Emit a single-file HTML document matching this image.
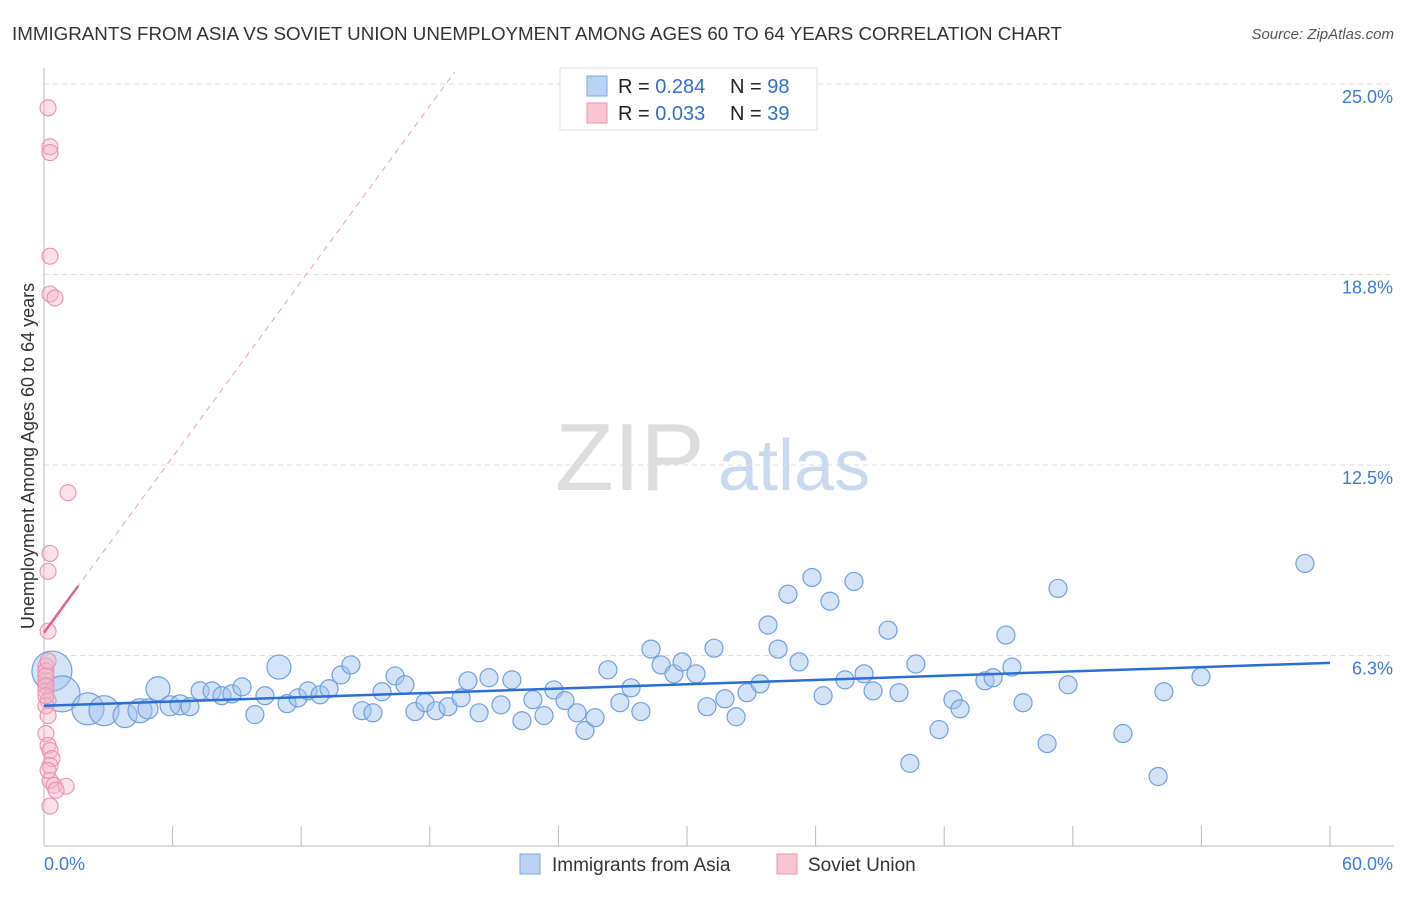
<!DOCTYPE html>
<html><head><meta charset="utf-8"><style>
body{margin:0;background:#fff;font-family:"Liberation Sans",sans-serif}
svg text{font-family:"Liberation Sans",sans-serif}
</style></head><body>
<svg id="c" width="1406" height="892">
<text x="12" y="40" font-size="18" fill="#333" textLength="1050" lengthAdjust="spacingAndGlyphs">IMMIGRANTS FROM ASIA VS SOVIET UNION UNEMPLOYMENT AMONG AGES 60 TO 64 YEARS CORRELATION CHART</text>
<text x="1394" y="39" font-size="15" fill="#555" font-style="italic" text-anchor="end">Source: ZipAtlas.com</text>
<text transform="translate(34,456) rotate(-90)" font-size="18" fill="#333" text-anchor="middle">Unemployment Among Ages 60 to 64 years</text>
<text x="555" y="490" font-size="96" fill="#ddd" font-family="Liberation Serif">ZIP</text>
<text x="718" y="490" font-size="72" fill="#c9d9f0">atlas</text>
<g id="grid"></g><g id="pts"></g><g id="lines"></g>
<g>
<rect x="560" y="68" width="257" height="62" fill="#fff" stroke="#ddd"/>
<rect x="587" y="76" width="20" height="20" fill="#b9d3f5" stroke="#7aa7e0"/>
<rect x="587" y="103" width="20" height="20" fill="#f9c5d3" stroke="#eb94ae"/>
<text x="618" y="93" font-size="20" fill="#222">R = <tspan fill="#2f6fd0">0.284</tspan></text>
<text x="730" y="93" font-size="20" fill="#222">N = <tspan fill="#2f6fd0">98</tspan></text>
<text x="618" y="120" font-size="20" fill="#222">R = <tspan fill="#2f6fd0">0.033</tspan></text>
<text x="730" y="120" font-size="20" fill="#222">N = <tspan fill="#2f6fd0">39</tspan></text>
</g>
<g>
<rect x="520" y="854" width="20" height="20" fill="#b9d3f5" stroke="#7aa7e0"/>
<text x="552" y="871" font-size="19" fill="#333">Immigrants from Asia</text>
<rect x="777" y="854" width="20" height="20" fill="#f9c5d3" stroke="#eb94ae"/>
<text x="808" y="871" font-size="19" fill="#333">Soviet Union</text>
</g>
</svg>
<script>
const yTicks=[6.25,12.5,18.75,25];
const yTickLabels=["6.3%","12.5%","18.8%","25.0%"];
const xTickCount=10;
const xMin=0,xMax=60,yMin=0,yMax=25;
const asiaX=[0.37,0.84,2.05,2.80,3.78,4.48,4.85,5.32,5.88,6.35,6.81,7.28,7.84,8.30,8.77,9.24,9.84,10.31,10.96,11.34,11.85,12.32,12.88,13.30,13.86,14.32,14.84,15.35,15.77,16.38,16.84,17.31,17.78,18.29,18.85,19.46,19.78,20.30,20.76,21.32,21.83,22.30,22.81,23.33,23.79,24.31,24.87,25.24,25.71,26.31,26.87,27.39,27.85,28.32,28.79,29.39,29.77,30.42,30.93,31.26,31.77,32.29,32.80,33.41,33.78,34.25,34.71,35.23,35.83,36.35,36.67,37.37,37.79,38.26,38.68,39.38,39.89,40.40,40.68,41.76,42.41,42.74,43.90,44.28,44.88,45.16,45.68,46.80,47.31,47.78,50.34,51.98,52.25,53.98,58.83];
const asiaY=[5.74,4.99,4.50,4.44,4.28,4.44,4.50,5.16,4.60,4.63,4.57,5.09,5.09,4.93,4.99,5.22,4.31,4.93,5.87,4.67,4.86,5.09,4.96,5.16,5.61,5.94,4.44,4.37,5.06,5.58,5.29,4.41,4.70,4.44,4.57,4.86,5.42,4.37,5.52,4.63,5.45,4.11,4.80,4.28,5.12,4.77,4.37,3.79,4.21,5.78,4.70,5.19,4.41,6.46,5.94,5.65,6.04,5.65,4.57,6.49,4.83,4.24,5.03,5.32,7.25,6.46,8.26,6.04,8.81,4.93,8.03,5.45,8.68,5.65,5.09,7.08,5.03,2.71,5.97,3.82,4.80,4.50,5.42,5.52,6.92,5.87,4.70,3.36,8.45,5.29,3.69,2.28,5.06,5.55,9.27];
const asiaR=[20,18,16,15,12,12,10,12,10,10,9,9,9,9,9,9,9,9,12,9,9,9,9,9,9,9,9,9,9,9,9,9,9,9,9,9,9,9,9,9,9,9,9,9,9,9,9,9,9,9,9,9,9,9,9,9,9,9,9,9,9,9,9,9,9,9,9,9,9,9,9,9,9,9,9,9,9,9,9,9,9,9,9,9,9,9,9,9,9,9,9,9,9,9,9];
const sovX=[0.19,0.28,0.28,0.28,0.28,0.51,1.12,0.28,0.19,0.19,0.09,0.09,0.09,0.19,0.09,0.19,0.09,0.19,0.28,0.37,0.28,0.28,0.47,1.03,0.56,0.28,0.09,0.09,0.09,0.19,0.09,0.19];
const sovY=[24.22,22.94,22.75,19.35,18.11,17.98,11.59,9.60,9.01,7.05,5.91,5.42,5.09,4.77,4.60,4.28,3.69,3.30,3.13,2.87,2.64,2.15,1.99,1.96,1.83,1.31,5.74,5.58,5.25,6.07,4.93,2.48];
const asiaTrend=[4.60,6.01];
const sovTrend=[7.0,0.96];
const NS="http://www.w3.org/2000/svg";
const L=44,R=1330,T=84,B=846;
const sx=v=>L+(v-xMin)/(xMax-xMin)*(R-L);
const sy=v=>B-(v-yMin)/(yMax-yMin)*(B-T);
function mk(tag,attrs,parent){const e=document.createElementNS(NS,tag);for(const k in attrs)e.setAttribute(k,attrs[k]);parent.appendChild(e);return e;}
const grid=document.getElementById('grid'),pts=document.getElementById('pts'),lines=document.getElementById('lines');
yTicks.forEach((t,i)=>{
 const g=mk('line',{x1:L,x2:1394,y1:sy(t),y2:sy(t),stroke:'#ddd','stroke-dasharray':'5,4'},grid);
 
 
 const tx=mk('text',{x:1393,y:sy(t)+19,'font-size':18,fill:'#3b7ad8','text-anchor':'end'},grid);
 tx.textContent=yTickLabels[i];
 
 
});
const ax=mk('line',{x1:L,x2:L,y1:68,y2:B,stroke:'#bbb'},grid);


const bx=mk('line',{x1:L,x2:1394,y1:B,y2:B,stroke:'#bbb'},grid);


for(let i=1;i<=xTickCount;i++){
 const v=xMin+(xMax-xMin)*i/xTickCount;
 const tk=mk('line',{x1:sx(v),x2:sx(v),y1:826,y2:B,stroke:'#bbb'},grid);
 
 
}
const x0=mk('text',{x:44,y:870,'font-size':18,fill:'#3b7ad8'},grid);x0.textContent='0.0%';


const x1=mk('text',{x:1393,y:870,'font-size':18,fill:'#3b7ad8','text-anchor':'end'},grid);x1.textContent='60.0%';


asiaX.forEach((x,i)=>{
 const c=mk('circle',{cx:sx(x),cy:sy(asiaY[i]),r:asiaR[i]||9,fill:'rgba(160,195,240,0.45)',stroke:'#6f9fe0','stroke-width':1.2},pts);
 
 
});
sovX.forEach((x,i)=>{
 const c=mk('circle',{cx:sx(x),cy:sy(sovY[i]),r:8,fill:'rgba(248,180,200,0.4)',stroke:'#ec90ad','stroke-width':1.1},pts);
 
 
});
const bl=mk('line',{x1:sx(0),y1:sy(asiaTrend[0]),x2:sx(60),y2:sy(asiaTrend[1]),stroke:'#2a6fd6','stroke-width':2.5},lines);


const xe=(25.4-sovTrend[0])/sovTrend[1];
const pd=mk('line',{x1:sx(0),y1:sy(sovTrend[0]),x2:sx(xe),y2:sy(sovTrend[0]+sovTrend[1]*xe),stroke:'#e8a0b8','stroke-width':1,'stroke-dasharray':'6,5'},lines);


const ps=mk('line',{x1:sx(0),y1:sy(sovTrend[0]),x2:sx(1.6),y2:sy(sovTrend[0]+sovTrend[1]*1.6),stroke:'#e45f8c','stroke-width':2.5},lines);


</script>
</body></html>
